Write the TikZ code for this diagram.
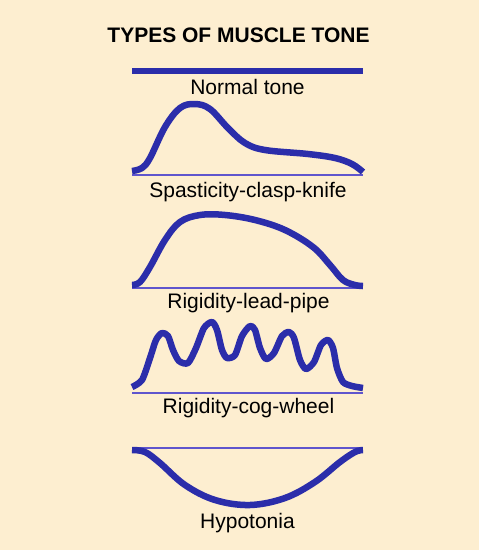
\documentclass[tikz,border=0pt]{standalone}
\usepackage{fontspec}
\setmainfont{Liberation Sans}
\usepackage{xcolor}
\usepackage{tikz}
\usetikzlibrary{positioning}
\definecolor{paper}{RGB}{253,238,208}
\definecolor{toneblue}{RGB}{43,45,170}
\definecolor{baseblue}{RGB}{95,85,205}

\begin{document}
\begin{tikzpicture}[
    x=1pt, y=-1pt,
    title/.style={anchor=base, font=\fontsize{21}{25}\selectfont\bfseries, inner sep=0pt},
    label/.style={anchor=base, font=\fontsize{21}{25}\selectfont, inner sep=0pt},
    trace/.style={draw=toneblue, line width=6.5pt, line join=round},
    baseline/.style={draw=baseblue, line width=1.1pt}
]
\fill[paper] (0,0) rectangle (479,550);
\useasboundingbox (0,0) rectangle (479,550);

\node[title] (head) at (238.5,42) {TYPES OF MUSCLE TONE};

% normal tone
\coordinate (n1) at (132,71);
\coordinate (n2) at (363,71);
\draw[trace, line width=6pt] (n1) -- (n2);
\node[label] (normal) at (247.5,94) {Normal tone};

% spasticity
\coordinate (s1) at (132,175);
\coordinate (s2) at (363,175);
\draw[baseline] (s1) -- (s2);
\draw[trace] plot[smooth, tension=0.6] coordinates {(132,171) (142,168) (150,158) (165,127) (180,108) (195,104) (210,109) (228,128) (245,143) (265,150) (308,154) (335,158) (352,164) (363,172)};
\node[label] (spast) at (248,197) {Spasticity-clasp-knife};

% lead pipe
\coordinate (l1) at (132,288);
\coordinate (l2) at (363,288);
\draw[baseline] (l1) -- (l2);
\draw[trace] plot[smooth, tension=0.6] coordinates {(132,285) (140,282) (150,267) (165,240) (180,222) (200,215) (225,215) (255,220) (285,230) (313,247) (330,265) (343,280) (355,285) (363,286)};
\node[label] (lead) at (248.5,308) {Rigidity-lead-pipe};

% cog wheel
\coordinate (c1) at (132,393);
\coordinate (c2) at (363,393);
\draw[baseline] (c1) -- (c2);
\draw[trace] plot[smooth, tension=0.45] coordinates {(132,387) (142,380) (150,358) (156,340) (162,333) (168,336) (173,350) (179,361) (188,363) (196,348) (204,328) (212,322) (217,330) (222,350) (227,358) (235,355) (242,336) (250,326) (255,330) (260,348) (266,359) (274,353) (282,336) (289,332) (294,338) (300,360) (306,369) (314,362) (321,345) (328,340) (333,348) (337,368) (343,382) (352,386) (363,388)};
\node[label] (cog) at (248.5,413) {Rigidity-cog-wheel};

% hypotonia
\coordinate (h1) at (132,448);
\coordinate (h2) at (363,448);
\draw[baseline] (h1) -- (h2);
\draw[trace] plot[smooth, tension=0.6] coordinates {(132,450) (145,452) (160,463) (185,485) (215,500) (250,505) (285,498) (315,482) (340,462) (355,452) (363,450)};
\node[label] (hypo) at (247.5,528) {Hypotonia};
\end{tikzpicture}
\end{document}
